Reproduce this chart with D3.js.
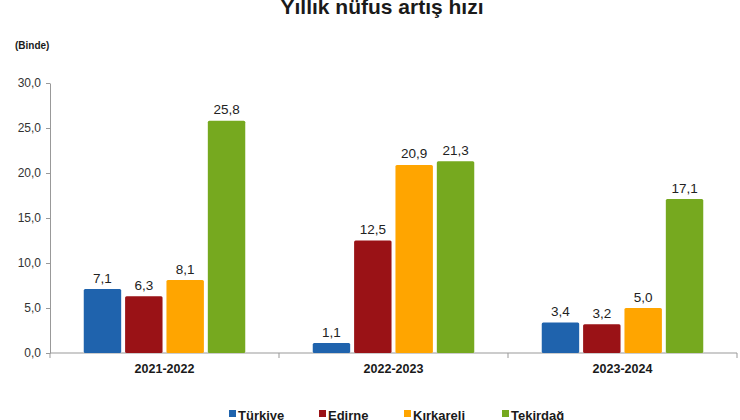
<!DOCTYPE html>
<html><head><meta charset="utf-8">
<script src="https://cdn.jsdelivr.net/npm/d3@7"></script>
<style>body{margin:0;background:#fff}svg{display:block;font-family:Arial,"Liberation Sans",sans-serif}</style>
</head><body><svg id="c" width="740" height="420"></svg>
<script>
const categories = ["2021-2022","2022-2023","2023-2024"];
const seriesNames = ["Türkiye","Edirne","Kırkareli","Tekirdağ"];
const seriesColors = ["#1f63ad","#9a1216","#ffa500","#76a91f"];
const turkiye = [7.1, 1.1, 3.4];
const edirne = [6.3, 12.5, 3.2];
const kirkareli = [8.1, 20.9, 5.0];
const tekirdag = [25.8, 21.3, 17.1];
const yTicks = [0,5,10,15,20,25,30];
const seriesValues = [turkiye, edirne, kirkareli, tekirdag];

const svg = d3.select("#c");
const fmt = v => d3.format(".1f")(v).replace(".", ",");

const x0 = d3.scaleBand().domain(categories).range([50, 737]).padding(0);
const y = d3.scaleLinear().domain([0, 30]).range([353, 83]);
const groupW = 161.5;
const x1 = d3.scaleBand().domain(seriesNames).range([0, groupW]).paddingInner(0.095).paddingOuter(0);

// title
svg.append("text").attr("x", 382).attr("y", 14).attr("text-anchor", "middle")
  .attr("font-size", 21).attr("font-weight", "bold").attr("fill", "#1a1a1a").text("Yıllık nüfus artış hızı");
svg.append("text").attr("x", 15).attr("y", 49).attr("font-size", 10).attr("font-weight", "bold")
  .attr("fill", "#1a1a1a").text("(Binde)");

// y axis
const yAxis = svg.append("g").attr("transform", "translate(50,0)")
  .call(d3.axisLeft(y).tickValues(yTicks).tickFormat(fmt).tickSize(4).tickSizeOuter(0));
yAxis.select(".domain").attr("stroke", "#999");
yAxis.selectAll(".tick line").attr("stroke", "#999");
yAxis.selectAll(".tick text").attr("font-size", 12).attr("fill", "#333").attr("x", -9).attr("font-family", "Arial, 'Liberation Sans', sans-serif");

// x axis baseline + category ticks
const xg = svg.append("g");
xg.append("line").attr("x1", x0.range()[0]).attr("x2", x0.range()[1]).attr("y1", y(0)).attr("y2", y(0)).attr("stroke", "#999");
const bounds = categories.map(c => x0(c)).concat([x0.range()[1]]);
xg.selectAll("line.t").data(bounds).join("line").attr("class","t")
  .attr("x1", d => d).attr("x2", d => d).attr("y1", y(0)).attr("y2", y(0) + 5).attr("stroke", "#999");
xg.selectAll("text").data(categories).join("text")
  .attr("x", d => x0(d) + x0.bandwidth() / 2).attr("y", 373).attr("text-anchor", "middle")
  .attr("font-size", 12.5).attr("font-weight", "bold").attr("fill", "#1a1a1a").text(d => d);

// bars
const data = [];
categories.forEach((c, ci) => seriesNames.forEach((s, si) => data.push({c, s, si, v: seriesValues[si][ci]})));
const gx = c => x0(c) + (x0.bandwidth() - groupW) / 2;
svg.append("g").selectAll("rect").data(data).join("rect")
  .attr("x", d => gx(d.c) + x1(d.s)).attr("width", x1.bandwidth())
  .attr("y", d => y(d.v)).attr("height", d => y(0) - y(d.v))
  .attr("rx", 1.5).attr("fill", d => seriesColors[d.si]);
svg.append("g").selectAll("text").data(data).join("text")
  .attr("x", d => gx(d.c) + x1(d.s) + x1.bandwidth() / 2).attr("y", d => y(d.v) - 6.5)
  .attr("text-anchor", "middle").attr("font-size", 13.5).attr("fill", "#222").text(d => fmt(d.v));

// legend
const legX = [229, 319, 404, 502];
const lg = svg.append("g").selectAll("g").data(seriesNames).join("g")
  .attr("transform", (d, i) => `translate(${legX[i]},0)`);
lg.append("rect").attr("x", 0).attr("y", 410).attr("width", 7).attr("height", 7).attr("fill", (d, i) => seriesColors[i]);
lg.append("text").attr("x", 9).attr("y", 419.5).attr("font-size", 13).attr("font-weight", "bold")
  .attr("fill", "#1a1a1a").text(d => d);
</script></body></html>
